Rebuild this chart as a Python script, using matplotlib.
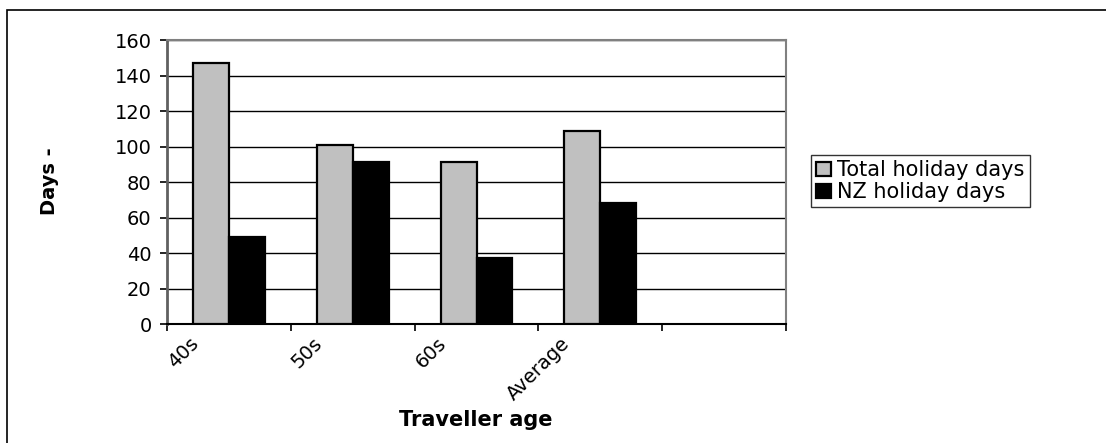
import numpy as np
import matplotlib.pyplot as plt
from matplotlib.patches import Rectangle
from matplotlib.transforms import ScaledTranslation

plt.rcParams['font.family'] = ['DejaVu Sans']

# holiday days by traveller age group
groups = ["40s", "50s", "60s", "Average", ""]
total_days = [147, 101, 91, 109, np.nan]
nz_days = [49, 91, 37, 68, np.nan]

fig = plt.figure(figsize=(11.06, 4.43), dpi=100)
ax = fig.add_axes([0.151, 0.2686, 0.5597, 0.6411])

x = np.arange(len(groups))
w = 0.29
ax.bar(x - w / 2, total_days, w, color="#c0c0c0", edgecolor="black",
       linewidth=1.6, label="Total holiday days", zorder=3)
ax.bar(x + w / 2, nz_days, w, color="black", edgecolor="black",
       linewidth=1.6, label="NZ holiday days", zorder=3)

ax.set_xlim(-0.5, len(groups) - 0.5)
ax.set_ylim(0, 160)
ax.set_yticks(np.arange(0, 161, 20))
ax.yaxis.grid(True, color="black", linewidth=1.0, zorder=0)

# ticks at category boundaries, labels under the groups
ax.set_xticks(np.arange(-0.5, len(groups), 1.0))
ax.set_xticklabels([])
ax.set_xticks(x, minor=True)
ax.set_xticklabels(groups, minor=True, rotation=45, ha="right",
                   rotation_mode="anchor", fontsize=14)
ax.tick_params(axis="x", which="minor", length=0, pad=7)
ax.tick_params(axis="x", which="major", length=5, width=1.2, direction="out")
ax.tick_params(axis="y", length=5, width=1.2, direction="out", labelsize=14, pad=6)
shift = ScaledTranslation(-0.40, 0, fig.dpi_scale_trans)
for lbl in ax.get_xticklabels(minor=True):
    lbl.set_transform(lbl.get_transform() + shift)

for side in ["top", "right"]:
    ax.spines[side].set_color("#808080")
    ax.spines[side].set_linewidth(1.5)
ax.spines["left"].set_color("#606060")
ax.spines["left"].set_linewidth(2.0)
ax.spines["bottom"].set_color("black")
ax.spines["bottom"].set_linewidth(1.5)

fig.text(0.045, 0.59, "Days -", rotation=90, fontsize=14, fontweight="bold",
         ha="center", va="center")
fig.text(0.430, 0.052, "Traveller age", fontsize=15, fontweight="bold",
         ha="center", va="center")

leg = fig.legend(loc="upper left", bbox_to_anchor=(811 / 1106, 1 - 155 / 443),
                 fontsize=15, frameon=True, fancybox=False, shadow=False,
                 handlelength=0.7, handleheight=0.7, handletextpad=0.3,
                 borderpad=0.25, labelspacing=0.1, borderaxespad=0)
leg.get_frame().set_edgecolor("black")
leg.get_frame().set_linewidth(1.0)

# outer chart border
fig.patches.append(Rectangle((7 / 1106, -0.2), 1.2, 1.2 - 10 / 443,
                             transform=fig.transFigure, fill=False,
                             edgecolor="black", linewidth=1.2))

fig.savefig("out.png", dpi=100)
